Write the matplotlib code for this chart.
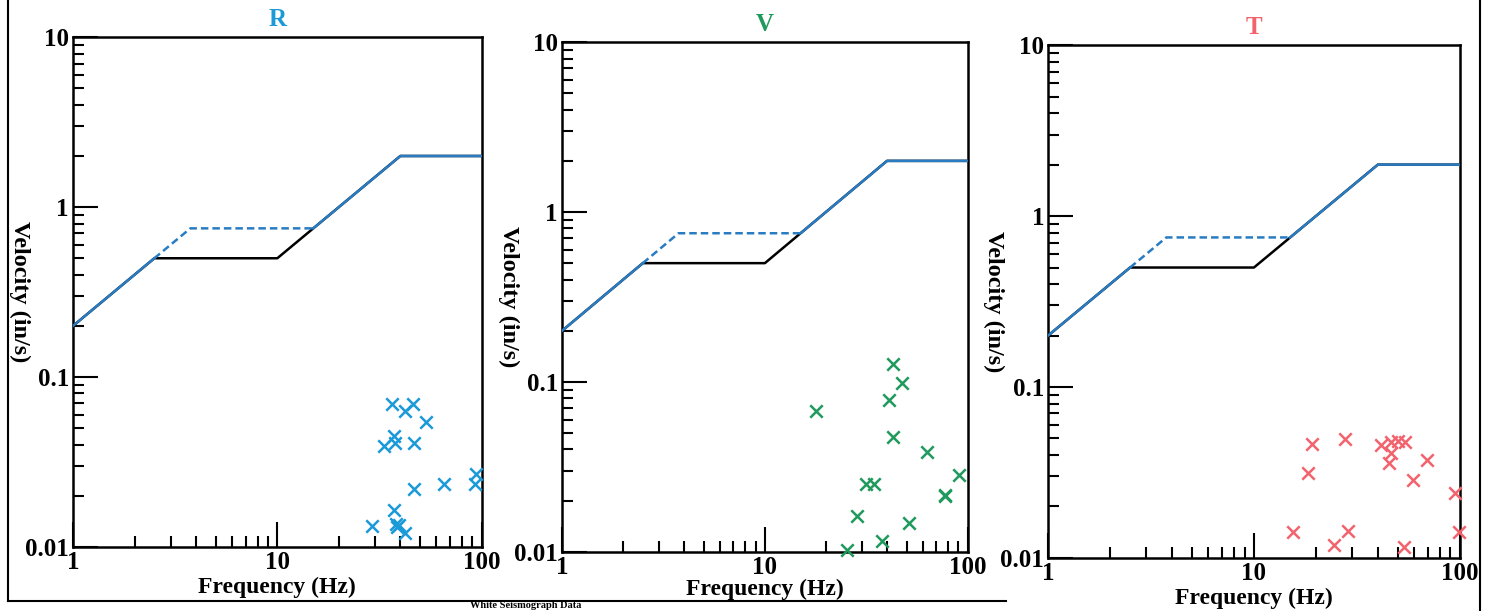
import numpy as np
import matplotlib.pyplot as plt
from matplotlib.lines import Line2D

plt.rcParams['font.family'] = ['Liberation Serif', 'DejaVu Serif']
plt.rcParams['font.weight'] = 'bold'

# limit curves (velocity vs frequency)
limit_freq = [1, 2.5, 10, 40, 100]
limit_vel = [0.2, 0.5, 0.5, 2.0, 2.0]
alt_freq = [1, 2.5, 3.75, 15, 40, 100]
alt_vel = [0.2, 0.5, 0.75, 0.75, 2.0, 2.0]

# measured peaks, one set per component
r_freq = [36.5, 42.4, 46.0, 53.3, 37.2, 33.2, 37.6, 46.9, 93.5, 92.7, 65.3, 46.9,
          37.2, 29.2, 37.9, 39.3, 42.4, 38.7]
r_vel = [0.069, 0.063, 0.069, 0.054, 0.045, 0.039, 0.041, 0.041, 0.027, 0.0233,
         0.0233, 0.022, 0.0164, 0.0132, 0.0137, 0.0134, 0.0121, 0.0130]

v_freq = [42.9, 47.7, 40.8, 17.8, 42.9, 63.0, 90.6, 31.7, 34.5, 77.1, 77.5,
          28.6, 51.4, 37.7, 25.4]
v_vel = [0.128, 0.098, 0.078, 0.067, 0.0475, 0.0388, 0.0283, 0.025, 0.0251,
         0.0213, 0.0215, 0.0162, 0.0147, 0.0115, 0.0103]

t_freq = [19.1, 27.7, 41.4, 46.6, 50.2, 54.1, 46.6, 45.4, 69.7, 18.3, 59.3, 94.6,
          99.0, 28.7, 24.4, 53.5, 15.5]
t_vel = [0.0464, 0.0494, 0.0458, 0.0479, 0.0484, 0.0479, 0.0413, 0.0358, 0.0374,
         0.0313, 0.0286, 0.0239, 0.0141, 0.0144, 0.0119, 0.0116, 0.0142]

titles = ['R', 'V', 'T']
colors = ['#1b9ad8', '#1f9a5c', '#f2636e']
freqs = [r_freq, v_freq, t_freq]
vels = [r_vel, v_vel, t_vel]

y_ticks = [0.01, 0.1, 1, 10]
y_labels = ['0.01', '0.1', '1', '10']
x_ticks = [1, 10, 100]
x_labels = ['1', '10', '100']

# axes rectangles in figure fractions (scan is slightly skewed)
rects = [[0.049, 0.105, 0.274, 0.834],
         [0.377, 0.097, 0.272, 0.834],
         [0.703, 0.087, 0.276, 0.839]]
xlabel_pads = [2, 0, 2]

line_blue = '#2a7cc2'

# dense grid just for finding where the two limit curves coincide
fgrid = np.logspace(0, 2, 600)
main_i = 10 ** np.interp(np.log10(fgrid), np.log10(limit_freq), np.log10(limit_vel))
alt_i = 10 ** np.interp(np.log10(fgrid), np.log10(alt_freq), np.log10(alt_vel))
overlap = np.isclose(main_i, alt_i, rtol=2e-3)
alt_solid = np.where(overlap, alt_i, np.nan)
alt_dash = np.where(~overlap | np.roll(~overlap, 1) | np.roll(~overlap, -1), alt_i, np.nan)

fig = plt.figure(figsize=(14.91, 6.11), dpi=100)

for i in range(3):
    ax = fig.add_axes(rects[i])
    ax.plot(limit_freq, limit_vel, color='black', lw=1.8, zorder=2)
    ax.plot(fgrid, alt_dash, color=line_blue, lw=1.8, ls=(0, (3, 1.6)), zorder=3)
    ax.plot(fgrid, alt_solid, color=line_blue, lw=1.8, zorder=3)
    ax.scatter(freqs[i], vels[i], marker='x', s=80, linewidths=1.8,
               color=colors[i], zorder=4, clip_on=False)
    ax.set_xscale('log')
    ax.set_yscale('log')
    ax.set_xlim(1, 100)
    ax.set_ylim(0.01, 10)
    ax.set_xticks(x_ticks)
    ax.set_xticklabels(x_labels)
    ax.set_yticks(y_ticks)
    ax.set_yticklabels(y_labels)
    ax.tick_params(which='both', direction='in', top=False, right=False,
                   labelsize=18, width=1.5, pad=3)
    ax.tick_params(which='major', length=18)
    ax.tick_params(which='minor', length=8)
    for s in ax.spines.values():
        s.set_linewidth(1.8)
    ax.set_xlabel('Frequency (Hz)', fontsize=17, fontweight='bold',
                  labelpad=xlabel_pads[i])
    ax.set_ylabel('Velocity (in/s)', fontsize=17.5, fontweight='bold',
                  rotation=270)
    ax.yaxis.set_label_coords(-0.158, 0.5)
    ax.set_title(titles[i], color=colors[i], fontsize=18, fontweight='bold', pad=8)

# page border from the scanned report
fig.add_artist(Line2D([0.0054, 0.0054], [0.017, 1.0], color='black', lw=1.5,
                      transform=fig.transFigure))
fig.add_artist(Line2D([0.9926, 0.9926], [0.0, 1.0], color='black', lw=1.5,
                      transform=fig.transFigure))
fig.add_artist(Line2D([0.0054, 0.675], [0.017, 0.017], color='black', lw=1.5,
                      transform=fig.transFigure))
fig.text(0.315, 0.0015, 'White Seismograph Data', fontsize=7.5, fontweight='bold',
         va='bottom', ha='left')

fig.savefig('out.png', dpi=100, facecolor='white')
